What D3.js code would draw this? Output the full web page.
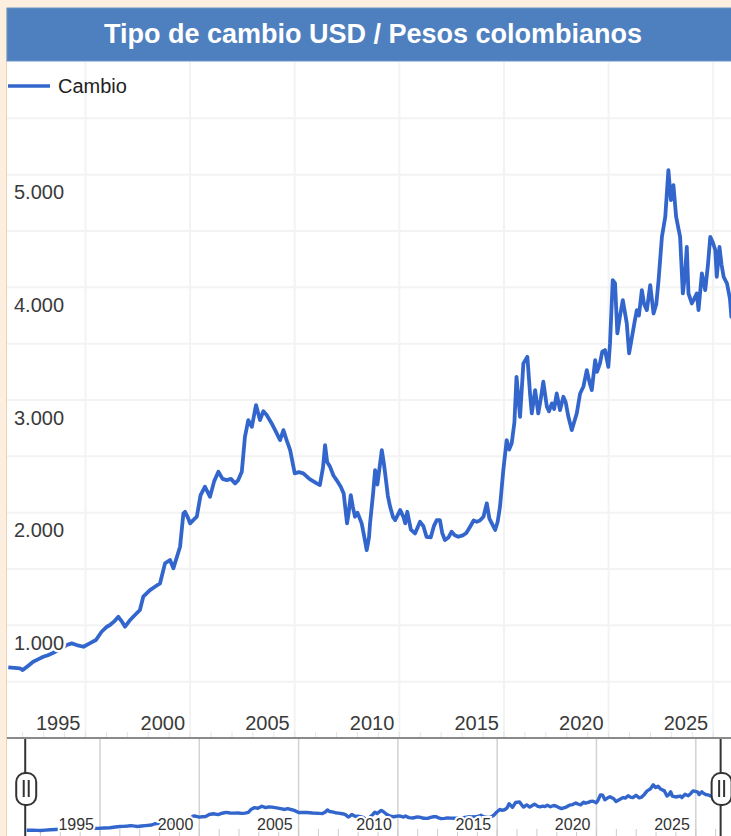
<!DOCTYPE html>
<html>
<head>
<meta charset="utf-8">
<script src="https://cdn.jsdelivr.net/npm/d3@7"></script>
<style>
  html, body { margin: 0; padding: 0; background: #fdefdf; overflow: hidden; }
  svg { display: block; font-family: "Liberation Sans", Arial, sans-serif; }
</style>
</head>
<body>
<svg id="chart" width="731" height="836"></svg>
<script>
// ---- data ----
const title = "Tipo de cambio USD / Pesos colombianos";
const seriesName = "Cambio";
const years = [
 1991.31,1991.6,1991.87,1992.0,1992.25,1992.5,1992.75,1992.98,1993.2,1993.46,1993.8,1994.1,1994.34,1994.58,1994.9,
 1995.2,1995.5,1995.77,1996.0,1996.17,1996.4,1996.57,1996.75,1996.89,1997.1,1997.28,1997.6,1997.76,1998.08,1998.3,
 1998.56,1998.8,1999.04,1999.2,1999.52,1999.68,1999.76,1999.91,2000.0,2000.15,2000.32,2000.5,2000.71,2000.95,2001.15,
 2001.35,2001.55,2001.75,2001.95,2002.15,2002.3,2002.47,2002.62,2002.78,2002.95,2003.15,2003.34,2003.5,2003.66,2003.9,
 2004.1,2004.3,2004.46,2004.62,2004.78,2005.0,2005.2,2005.41,2005.7,2006.05,2006.2,2006.35,2006.45,2006.55,2006.69,
 2006.85,2007.0,2007.2,2007.34,2007.5,2007.58,2007.68,2007.78,2007.88,2008.0,2008.2,2008.35,2008.44,2008.55,2008.6,
 2008.75,2008.84,2008.95,2009.16,2009.25,2009.32,2009.45,2009.56,2009.7,2009.8,2010.04,2010.2,2010.28,2010.38,2010.55,
 2010.75,2010.99,2011.15,2011.3,2011.5,2011.65,2011.79,2011.94,2012.05,2012.18,2012.35,2012.5,2012.65,2012.82,2013.06,
 2013.2,2013.38,2013.55,2013.7,2013.85,2014.02,2014.18,2014.3,2014.42,2014.58,2014.7,2014.81,2014.97,2015.13,2015.25,
 2015.37,2015.5,2015.6,2015.77,2015.93,2016.12,2016.25,2016.33,2016.49,2016.64,2016.75,2016.88,2017.05,2017.15,2017.29,
 2017.4,2017.52,2017.68,2017.84,2017.95,2018.08,2018.24,2018.35,2018.48,2018.64,2018.8,2018.96,2019.1,2019.2,2019.36,
 2019.45,2019.59,2019.7,2019.83,2019.99,2020.07,2020.2,2020.31,2020.42,2020.55,2020.68,2020.87,2020.98,2021.12,2021.25,
 2021.35,2021.45,2021.59,2021.7,2021.83,2021.99,2022.15,2022.28,2022.39,2022.55,2022.71,2022.86,2022.98,2023.1,2023.23,
 2023.42,2023.55,2023.65,2023.74,2023.82,2023.98,2024.1,2024.22,2024.3,2024.46,2024.62,2024.75,2024.86,2024.98,2025.1,
 2025.17,2025.3,2025.4,2025.5,2025.66,2025.8,2025.87,2026.0,2026.15
];
const cambio = [
 627,622,618,603,640,677,700,721,735,757,790,825,840,825,810,
 840,870,943,985,1003,1040,1076,1030,988,1040,1076,1136,1254,1313,1340,
 1372,1550,1580,1506,1697,1994,2008,1949,1905,1934,1964,2156,2230,2141,2280,
 2363,2300,2289,2300,2260,2289,2363,2673,2822,2762,2955,2822,2900,2866,2792,
 2720,2644,2733,2640,2555,2349,2360,2349,2300,2260,2245,2400,2600,2450,2407,
 2330,2289,2230,2171,1905,2000,2156,2050,1964,2000,1905,1760,1668,1780,1905,
 2180,2378,2250,2555,2450,2349,2150,2052,1960,1934,2023,1960,1905,2008,1850,
 1816,1919,1880,1786,1780,1880,1934,1934,1820,1757,1780,1831,1800,1786,1801,
 1820,1875,1930,1919,1930,1964,2083,1950,1905,1846,1920,2052,2378,2644,2560,
 2615,2800,3206,2851,3325,3383,3050,2881,3088,2881,3000,3162,2940,2900,2970,
 2920,3058,2911,3029,2980,2851,2733,2800,2881,3058,3120,3265,3150,3088,3354,
 3250,3325,3430,3443,3295,3502,4064,4035,3591,3750,3886,3680,3413,3561,3700,
 3798,3750,3975,3850,3798,4020,3768,3850,4064,4448,4626,5040,4774,4907,4626,
 4448,3946,4100,4359,3946,3857,3900,3946,3798,4123,3975,4200,4448,4400,4330,
 4093,4359,4200,4093,4034,3900,3738,3760,3680
];
const yTickValues = [1000, 2000, 3000, 4000, 5000];
const yGridValues = [500,1000,1500,2000,2500,3000,3500,4000,4500,5000,5500];
const xLabelYears = [1995, 2000, 2005, 2010, 2015, 2020, 2025];

// ---- helpers ----
function decToDate(y) {
  const yr = Math.floor(y);
  const a = new Date(yr, 0, 1).getTime(), b = new Date(yr + 1, 0, 1).getTime();
  return new Date(a + (y - yr) * (b - a));
}
const data = years.map((y, i) => ({ date: decToDate(y), value: cambio[i] }));
const locale = d3.formatLocale({ decimal: ",", thousands: ".", grouping: [3], currency: ["$", ""] });
const fmt = locale.format(",d");

const BLUE = "#3366cc";
const svg = d3.select("#chart");

// ---- frame ----
svg.append("rect").attr("x", 0).attr("y", 0).attr("width", 731).attr("height", 836).attr("fill", "#fdefdf");
svg.append("rect").attr("x", 7).attr("y", 61).attr("width", 740).attr("height", 800).attr("fill", "#ffffff");
svg.append("line").attr("x1", 6.5).attr("x2", 6.5).attr("y1", 8).attr("y2", 836).attr("stroke", "#ecd2b4").attr("stroke-width", 1);
svg.append("rect").attr("x", 7).attr("y", 8).attr("width", 740).attr("height", 53)
  .attr("fill", "#4e80bf").attr("stroke", "#6a93c8").attr("stroke-width", 1);
svg.append("text").attr("x", 373).attr("y", 43).attr("text-anchor", "middle")
  .attr("fill", "#ffffff").attr("font-weight", "bold").attr("font-size", 27).text(title);

// ---- main chart scales ----
const x = d3.scaleTime().domain([new Date(1995, 0, 1), new Date(2025, 0, 1)]).range([85.5, 713.2]);
const y = d3.scaleLinear().domain([0, 6000]).range([738, 62]);

const main = svg.append("g");
main.append("defs").append("clipPath").attr("id", "mainClip")
  .append("rect").attr("x", 7).attr("y", 62).attr("width", 740).attr("height", 676);

// grid
main.selectAll(".hg").data(yGridValues).join("line")
  .attr("x1", 7).attr("x2", 740).attr("y1", d => y(d)).attr("y2", d => y(d))
  .attr("stroke", "#f3f3f3").attr("stroke-width", 2);
main.selectAll(".vg").data(xLabelYears).join("line")
  .attr("x1", d => x(new Date(d, 0, 1))).attr("x2", d => x(new Date(d, 0, 1)))
  .attr("y1", 62).attr("y2", 738).attr("stroke", "#f3f3f3").attr("stroke-width", 2);
// minor yearly ticks
const minorYears = d3.timeYear.range(new Date(1992, 0, 1), new Date(2027, 0, 1));
main.selectAll(".mt").data(minorYears).join("line")
  .attr("x1", d => x(d)).attr("x2", d => x(d)).attr("y1", 732).attr("y2", 738)
  .attr("stroke", "#e4e4e4").attr("stroke-width", 1);

// line
const line = d3.line().x(d => x(d.date)).y(d => y(d.value));
main.append("path").datum(data).attr("clip-path", "url(#mainClip)")
  .attr("d", line).attr("fill", "none").attr("stroke", BLUE)
  .attr("stroke-width", 3.8).attr("stroke-linejoin", "round");

// y labels
main.selectAll(".yl").data(yTickValues).join("text")
  .attr("x", 14).attr("y", d => y(d) + 24.5)
  .attr("font-size", 20).attr("fill", "#3a3a3a")
  .attr("stroke", "#fff").attr("stroke-width", 5).attr("paint-order", "stroke")
  .text(d => fmt(d));
// x labels
main.selectAll(".xl").data(xLabelYears).join("text")
  .attr("x", d => x(new Date(d, 0, 1)) - 5).attr("y", 730).attr("text-anchor", "end")
  .attr("font-size", 20).attr("fill", "#3a3a3a")
  .attr("stroke", "#fff").attr("stroke-width", 4).attr("paint-order", "stroke")
  .text(d => d);

// legend
svg.append("line").attr("x1", 8).attr("x2", 50).attr("y1", 86).attr("y2", 86)
  .attr("stroke", BLUE).attr("stroke-width", 3.5);
svg.append("text").attr("x", 58).attr("y", 93).attr("font-size", 20).attr("fill", "#222").text(seriesName);

// ---- navigator ----
const nx = d3.scaleTime().domain([new Date(1995, 0, 1), new Date(2025, 0, 1)]).range([100, 695.8]);
const ny = d3.scaleLinear().domain([0, 6000]).range([836.7, 774.9]);
const nav = svg.append("g");
nav.append("rect").attr("x", 7).attr("y", 739).attr("width", 740).attr("height", 100).attr("fill", "#fff");
nav.selectAll(".ng").data(xLabelYears).join("line")
  .attr("x1", d => nx(new Date(d, 0, 1))).attr("x2", d => nx(new Date(d, 0, 1)))
  .attr("y1", 739).attr("y2", 836).attr("stroke", "#d2d2d2").attr("stroke-width", 1.5);
nav.selectAll(".nm").data(minorYears).join("line")
  .attr("x1", d => nx(d)).attr("x2", d => nx(d)).attr("y1", 829).attr("y2", 836)
  .attr("stroke", "#cccccc").attr("stroke-width", 1);
const nline = d3.line().x(d => nx(d.date)).y(d => ny(d.value));
nav.append("path").datum(data).attr("d", nline).attr("fill", "none")
  .attr("stroke", BLUE).attr("stroke-width", 3.4).attr("stroke-linejoin", "round");
nav.selectAll(".nl").data(xLabelYears).join("text")
  .attr("x", d => nx(new Date(d, 0, 1)) - 6).attr("y", 830).attr("text-anchor", "end")
  .attr("font-size", 16).attr("fill", "#333")
  .attr("stroke", "#fff").attr("stroke-width", 4).attr("paint-order", "stroke")
  .text(d => d);
svg.append("line").attr("x1", 7).attr("x2", 740).attr("y1", 738).attr("y2", 738)
  .attr("stroke", "#8a8a8a").attr("stroke-width", 2);

// handles at the ends of the data range
const handleX = [nx(data[0].date) - 1.5, nx(data[data.length - 1].date) + 2];
const h = nav.selectAll(".handle").data(handleX).join("g").attr("transform", d => `translate(${d},0)`);
h.append("line").attr("x1", 0).attr("x2", 0).attr("y1", 739).attr("y2", 836).attr("stroke", "#333").attr("stroke-width", 2);
h.append("rect").attr("x", -9).attr("y", 773).attr("width", 20).attr("height", 32).attr("rx", 9)
  .attr("fill", "#fff").attr("stroke", "#333").attr("stroke-width", 2);
h.append("line").attr("x1", -1.5).attr("x2", -1.5).attr("y1", 780).attr("y2", 797).attr("stroke", "#333").attr("stroke-width", 2);
h.append("line").attr("x1", 3.5).attr("x2", 3.5).attr("y1", 780).attr("y2", 797).attr("stroke", "#333").attr("stroke-width", 2);
</script>
</body>
</html>
